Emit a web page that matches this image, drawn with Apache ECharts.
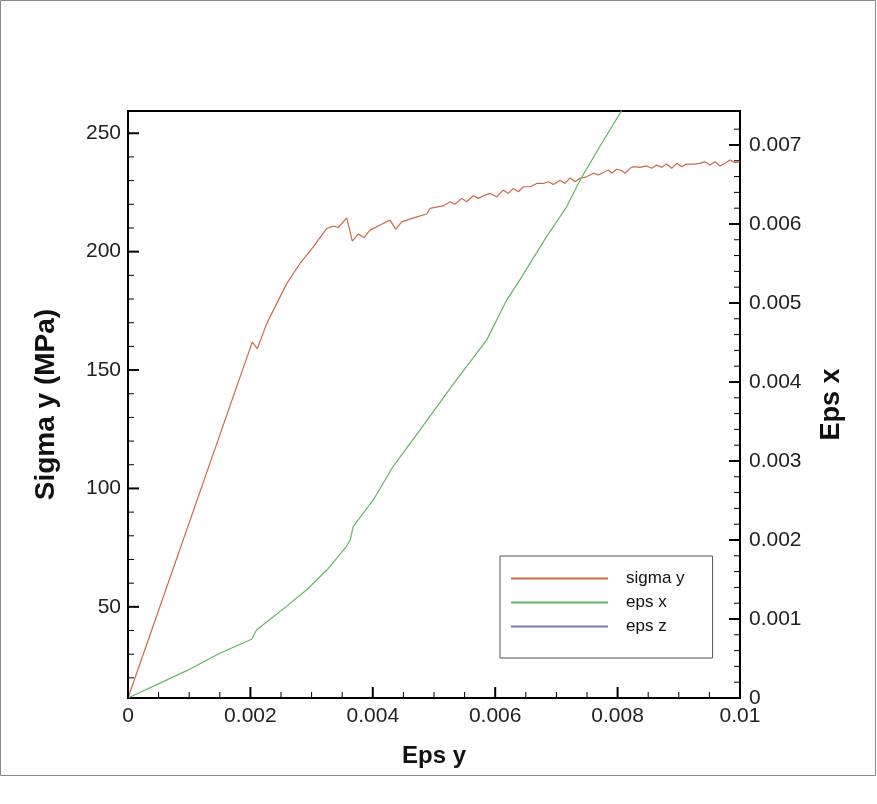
<!DOCTYPE html>
<html>
<head>
<meta charset="utf-8">
<script src="https://cdn.jsdelivr.net/npm/echarts@6/dist/echarts.min.js"></script>
<style>
  html, body { margin: 0; padding: 0; background: #ffffff; }
  #chart { width: 877px; height: 804px; }
</style>
</head>
<body>
<div id="chart"></div>
<script>
// Stress–strain record: sigma y (left axis) and lateral strain eps x (right axis) against eps y.
var sigmaEpsY = [
  0, 0.00203, 0.002113, 0.002266, 0.002593, 0.00281, 0.003028, 0.003247, 0.003355, 0.003436,
  0.003574, 0.003665, 0.003763, 0.003861, 0.003954, 0.004145, 0.004281, 0.004374, 0.004472, 0.004717,
  0.004881, 0.004935, 0.005147, 0.005261, 0.005343, 0.005453, 0.005534, 0.005642, 0.005724, 0.005833,
  0.005915, 0.006025, 0.006132, 0.006214, 0.006296, 0.006378, 0.006459, 0.006569, 0.006678, 0.006786,
  0.006868, 0.00695, 0.007059, 0.007141, 0.007222, 0.007304, 0.007386, 0.007495, 0.007603, 0.007685,
  0.007848, 0.007904, 0.007985, 0.008067, 0.008121, 0.008203, 0.008257, 0.008366, 0.008475, 0.008557,
  0.008639, 0.00872, 0.008802, 0.008884, 0.008966, 0.009047, 0.009129, 0.009237, 0.009346, 0.009428,
  0.00951, 0.009592, 0.009673, 0.009755, 0.009837, 0.009918, 0.01
];
var sigmaY = [
  11.5, 161.8, 159.0, 169.6, 186.5, 195.0, 202.0, 209.8, 210.8, 210.2,
  214.3, 204.4, 207.4, 206.0, 209.1, 211.6, 213.3, 209.5, 212.6, 214.7,
  215.9, 218.3, 219.3, 221.1, 220.0, 222.5, 221.1, 223.6, 222.5, 223.9,
  224.6, 223.2, 226.0, 224.6, 226.7, 225.3, 227.4, 227.4, 228.8, 228.8,
  229.5, 228.4, 230.2, 228.8, 231.2, 229.5, 231.0, 231.6, 233.1, 232.4,
  234.5, 233.1, 234.8, 234.2, 233.1, 235.2, 235.9, 235.6, 236.2, 235.2,
  236.6, 235.6, 237.0, 235.2, 237.3, 235.9, 237.0, 237.0, 237.3, 238.0,
  236.6, 238.0, 236.2, 237.3, 238.7, 237.6, 238.0
];

var epsXEpsY = [
  0, 0.00096, 0.0015, 0.00202, 0.0021, 0.00259, 0.00292, 0.00325, 0.00357, 0.00363,
  0.00368, 0.00401, 0.00433, 0.00477, 0.00532, 0.00586, 0.00619, 0.0064, 0.00684, 0.00717,
  0.00739, 0.00771, 0.00807, 0.0082
];
var epsX = [
  0, 0.000346, 0.000566, 0.000743, 0.00086, 0.00116, 0.00137, 0.00162, 0.00192, 0.00200,
  0.00217, 0.00251, 0.00293, 0.00339, 0.00398, 0.00453, 0.00504, 0.00529, 0.00584, 0.00622,
  0.00656, 0.00698, 0.00744, 0.00760
];

// eps z has no samples inside the plotted window
var epsZEpsY = [];
var epsZ = [];

var seriesNames = ['sigma y', 'eps x', 'eps z'];

// Axis ticks and their labels
var xMajorTicks = [0, 0.002, 0.004, 0.006, 0.008, 0.01];
var xTickLabels = ['0', '0.002', '0.004', '0.006', '0.008', '0.01'];
var xMinorTicks = [0.0005, 0.001, 0.0015, 0.0025, 0.003, 0.0035, 0.0045, 0.005, 0.0055,
  0.0065, 0.007, 0.0075, 0.0085, 0.009, 0.0095];

var sigmaMajorTicks = [50, 100, 150, 200, 250];
var sigmaTickLabels = ['50', '100', '150', '200', '250'];
var sigmaMinorTicks = [20, 30, 40, 60, 70, 80, 90, 110, 120, 130, 140, 160, 170, 180, 190,
  210, 220, 230, 240];

var epsXMajorTicks = [0, 0.001, 0.002, 0.003, 0.004, 0.005, 0.006, 0.007];
var epsXTickLabels = ['0', '0.001', '0.002', '0.003', '0.004', '0.005', '0.006', '0.007'];
var epsXMinorTicks = [0.0002, 0.0004, 0.0006, 0.0008, 0.0012, 0.0014, 0.0016, 0.0018,
  0.0022, 0.0024, 0.0026, 0.0028, 0.0032, 0.0034, 0.0036, 0.0038,
  0.0042, 0.0044, 0.0046, 0.0048, 0.0052, 0.0054, 0.0056, 0.0058,
  0.0062, 0.0064, 0.0066, 0.0068, 0.0072];

function zip(xs, ys) {
  var out = [];
  for (var i = 0; i < xs.length; i++) out.push([xs[i], ys[i]]);
  return out;
}
function labelFor(values, labels) {
  return function (v) {
    var best = 0;
    for (var i = 1; i < values.length; i++) {
      if (Math.abs(values[i] - v) < Math.abs(values[best] - v)) best = i;
    }
    return labels[best];
  };
}

var FONT = 'Liberation Sans, Arial, Helvetica, sans-serif';
var tickText = { fontFamily: FONT, fontSize: 21, color: '#222' };
function titleText(size) {
  return { fontFamily: FONT, fontSize: size, fontWeight: 'bold', color: '#111' };
}

var X_MIN = 0, X_MAX = 0.01;
var S_MIN = 11.5, S_MAX = 259.4;
var E_MIN = 0, E_MAX = 0.00743;

// Inward tick marks placed through the axis scales.
// side: 'left' | 'right' | 'bottom'; the value is the tick position on that axis.
function tickSeries(side, values, len, width) {
  var yIndex = side === 'right' ? 1 : 0;
  return {
    type: 'custom', coordinateSystem: 'cartesian2d',
    xAxisIndex: 0, yAxisIndex: yIndex, silent: true, z: 5, clip: false,
    data: values.map(function (v) { return [v]; }),
    renderItem: function (params, api) {
      var v = api.value(0);
      var p, x2, y2;
      if (side === 'left') {
        p = api.coord([X_MIN, v]); x2 = p[0] + len; y2 = p[1];
      } else if (side === 'right') {
        p = api.coord([X_MAX, v]); x2 = p[0] - len; y2 = p[1];
      } else {
        p = api.coord([v, S_MIN]); x2 = p[0]; y2 = p[1] - len;
      }
      return {
        type: 'line',
        shape: { x1: p[0], y1: p[1], x2: x2, y2: y2 },
        style: { stroke: '#000', lineWidth: width }
      };
    }
  };
}

function valueAxis(position, min, max, name, nameGap, nameSize, ticks, labels, margin) {
  return {
    type: 'value', position: position, min: min, max: max,
    name: name, nameLocation: 'middle', nameGap: nameGap, nameTextStyle: titleText(nameSize),
    axisLine: { show: true, onZero: false, lineStyle: { color: '#000', width: 2 } },
    axisTick: { show: false },
    axisLabel: Object.assign({ customValues: ticks, margin: margin,
      formatter: labelFor(ticks, labels) }, tickText),
    splitLine: { show: false }
  };
}

var chart = echarts.init(document.getElementById('chart'), null, { renderer: 'canvas' });

chart.setOption({
  animation: false,
  backgroundColor: '#ffffff',
  grid: {
    left: 128, top: 111, width: 612, height: 587,
    show: true, borderColor: '#000', borderWidth: 2, backgroundColor: 'transparent'
  },
  graphic: [{
    type: 'rect', silent: true, z: -1,
    shape: { x: 0.5, y: 0.5, width: 875, height: 775 },
    style: { fill: 'none', stroke: '#8a8a8a', lineWidth: 1 }
  }],
  legend: {
    orient: 'vertical',
    left: 500, top: 556,
    padding: [14, 28, 23, 10],
    itemWidth: 97, itemHeight: 12, itemGap: 7,
    borderColor: '#555', borderWidth: 1, backgroundColor: '#fff',
    itemStyle: { opacity: 0, borderWidth: 0 },
    textStyle: { fontFamily: FONT, fontSize: 17, color: '#111', padding: [0, 0, 0, 13] },
    data: seriesNames
  },
  xAxis: [
    valueAxis('bottom', X_MIN, X_MAX, 'Eps y', 46, 24, xMajorTicks, xTickLabels, 8)
  ],
  yAxis: [
    valueAxis('left', S_MIN, S_MAX, 'Sigma y (MPa)', 68, 28, sigmaMajorTicks, sigmaTickLabels, 7),
    valueAxis('right', E_MIN, E_MAX, 'Eps x', 78, 27, epsXMajorTicks, epsXTickLabels, 9)
  ],
  series: [{
    name: seriesNames[0], type: 'line', xAxisIndex: 0, yAxisIndex: 0,
    data: zip(sigmaEpsY, sigmaY), symbol: 'none', clip: true,
    lineStyle: { color: '#cc6a48', width: 1.2 }, itemStyle: { color: '#cc6a48' }
  }, {
    name: seriesNames[1], type: 'line', xAxisIndex: 0, yAxisIndex: 1,
    data: zip(epsXEpsY, epsX), symbol: 'none', clip: true,
    lineStyle: { color: '#62b562', width: 1.2 }, itemStyle: { color: '#62b562' }
  }, {
    name: seriesNames[2], type: 'line', xAxisIndex: 0, yAxisIndex: 1,
    data: zip(epsZEpsY, epsZ), symbol: 'none', clip: true,
    lineStyle: { color: '#7a7ab8', width: 1.2 }, itemStyle: { color: '#7a7ab8' }
  },
    tickSeries('bottom', xMajorTicks, 11, 2),
    tickSeries('bottom', xMinorTicks, 6, 1),
    tickSeries('left', sigmaMajorTicks, 11, 2),
    tickSeries('left', sigmaMinorTicks, 6, 1),
    tickSeries('right', epsXMajorTicks, 11, 2),
    tickSeries('right', epsXMinorTicks, 6, 1)
  ]
});
</script>
</body>
</html>
